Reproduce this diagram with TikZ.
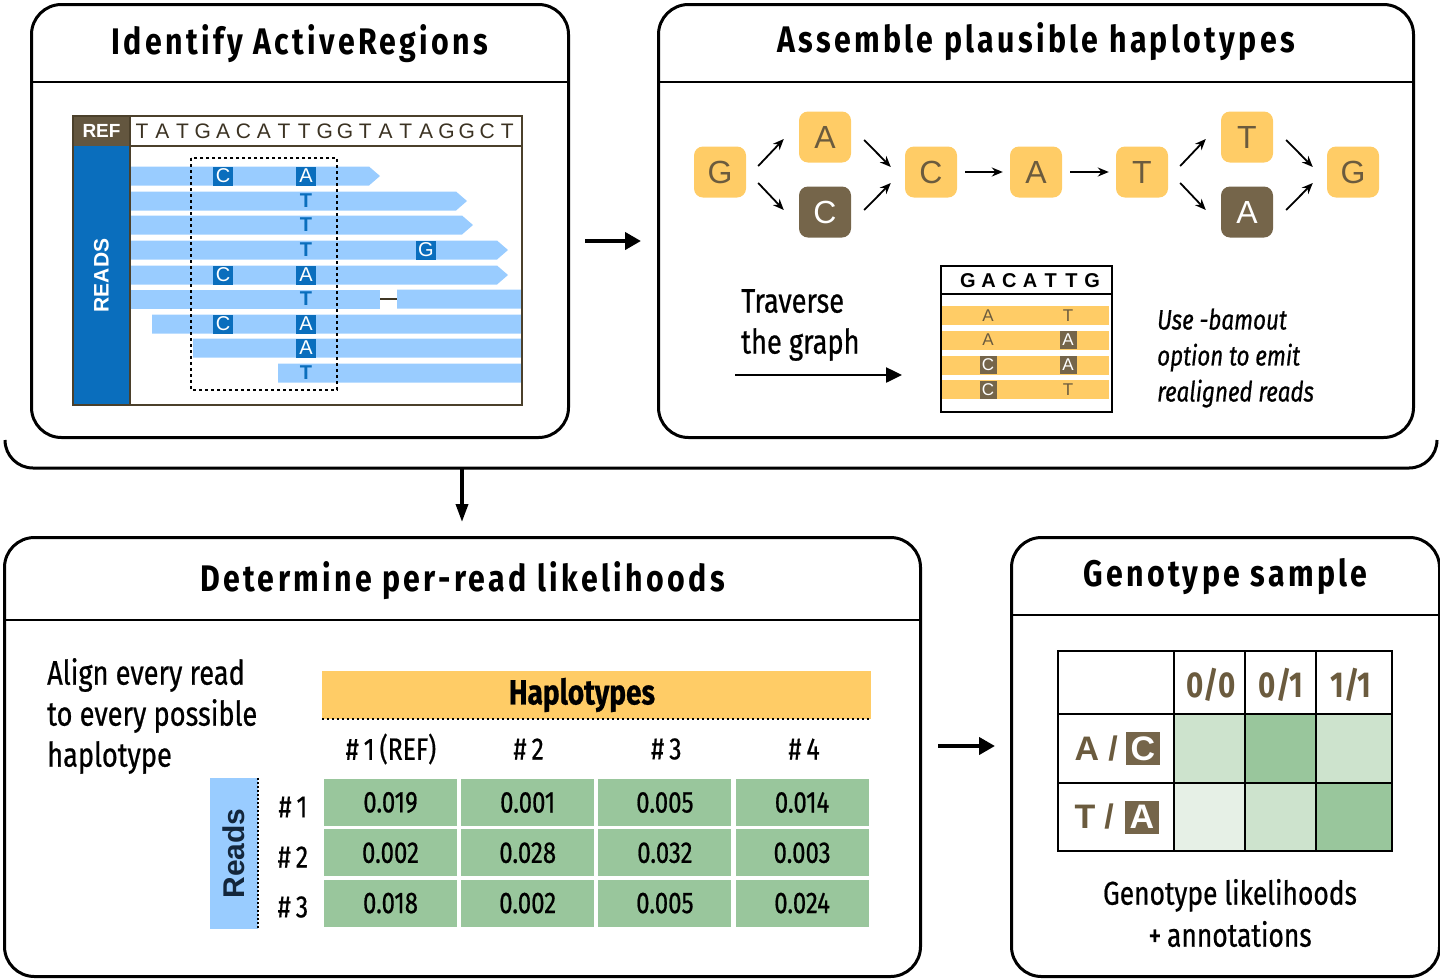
\documentclass[tikz,border=0pt]{standalone}
\usepackage{fontspec}
\setmainfont{Fira Sans}[FakeStretch=0.82]
\newfontfamily\bodyfont{Fira Sans}[FakeStretch=0.8, FakeBold=0.6]
\newfontfamily\titlefont{Fira Sans}[FakeStretch=0.82, LetterSpace=9]
\newfontfamily\arialfont{Liberation Sans}
\usetikzlibrary{positioning, arrows.meta, calc}

\definecolor{hapyellow}{HTML}{FFCC66}
\definecolor{hapbrown}{HTML}{6B5B3E}
\definecolor{hapdarkfill}{HTML}{75654A}
\definecolor{readblue}{HTML}{99CCFF}
\definecolor{refblue}{HTML}{0A6EBD}
\definecolor{likegreen}{HTML}{99C69C}
\definecolor{palegreen}{HTML}{CDE3CD}
\definecolor{palergreen}{HTML}{E6F0E6}
\definecolor{readsnavy}{HTML}{13263B}

\tikzset{
  panel/.style={draw, line width=3pt, rounded corners=30pt, anchor=north west, inner sep=0pt},
  divider/.style={line width=2.5pt},
  paneltitle/.style={font=\titlefont\bfseries\fontsize{37}{37}\selectfont},
  bigarrow/.style={line width=4.5pt, -{Triangle[length=16pt, width=17pt]}},
  downarrow/.style={line width=3.5pt, -{Triangle[length=18pt, width=12pt]}},
  flow/.style={line width=1.8pt, -{Stealth[length=11pt, width=9pt]}},
  hapnode/.style={fill=hapyellow, rounded corners=9pt, minimum width=52pt, minimum height=51pt,
    text=hapbrown, font=\arialfont\fontsize{32}{32}\selectfont},
  hapdark/.style={hapnode, fill=hapdarkfill, text=white},
  seqletter/.style={text=hapbrown!55!black, font=\arialfont\fontsize{21}{21}\selectfont, inner sep=0pt},
  varbox/.style={fill=refblue, text=white, minimum width=20pt, minimum height=19pt, inner sep=0pt,
    font=\arialfont\fontsize{20}{20}\selectfont},
  vart/.style={text=refblue, inner sep=0pt, font=\arialfont\bfseries\fontsize{20}{20}\selectfont},
  bodytext/.style={font=\bodyfont\fontsize{34}{41}\selectfont, align=left, anchor=west, inner sep=0pt},
  realletter/.style={text=hapbrown, inner sep=0pt, font=\arialfont\fontsize{17}{17}\selectfont},
  realdark/.style={realletter, fill=hapdarkfill, text=white, minimum width=17pt, minimum height=18pt},
  likecell/.style={fill=likegreen, minimum width=133pt, minimum height=47pt, inner sep=0pt,
    font=\bodyfont\fontsize{30}{30}\selectfont},
  colhead/.style={font=\bodyfont\fontsize{31}{31}\selectfont},
  gtcell/.style={minimum width=71pt, minimum height=69pt, inner sep=0pt, anchor=north west},
  gthead/.style={text=hapbrown, font=\bfseries\fontsize{36}{36}\selectfont},
  gtletter/.style={text=hapbrown, font=\arialfont\bfseries\fontsize{34}{34}\selectfont, inner sep=0pt},
  gtdark/.style={gtletter, fill=hapdarkfill, text=white, minimum width=34pt, minimum height=33pt},
}

\begin{document}
\begin{tikzpicture}[x=1pt, y=-1pt]
\useasboundingbox (0,0) rectangle (1440,978);

% ---- panels
\node[panel, minimum width=537pt, minimum height=433pt] (act) at (30,3) {};
\node[panel, minimum width=755pt, minimum height=433pt] (asm) at (657,3) {};
\node[panel, minimum width=916pt, minimum height=439pt] (lik) at (3,536) {};
\node[panel, minimum width=428pt, minimum height=439pt] (geno) at (1010,536) {};
\draw[divider] (act.west |- 0,82) -- (act.east |- 0,82);
\draw[divider] (asm.west |- 0,82) -- (asm.east |- 0,82);
\draw[divider] (lik.west |- 0,620) -- (lik.east |- 0,620);
\draw[divider] (geno.west |- 0,615) -- (geno.east |- 0,615);
\node[paneltitle] (actT) at (act.north |- 0,44) {Identify ActiveRegions};
\node[paneltitle] (asmT) at (asm.north |- 0,42) {Assemble plausible haplotypes};
\node[paneltitle] (likT) at (lik.north |- 0,581) {Determine per-read likelihoods};
\node[paneltitle] (genoT) at (geno.north |- 0,577) {Genotype sample};

% bracket round the two upper panels
\draw[line width=3pt, rounded corners=28pt] (5,440) -- (5,468) -- (1437,468) -- (1437,440);
\coordinate (brk) at (462,468);
\draw[downarrow, shorten >=14pt] (brk) -- (brk |- lik.north);
\draw[bigarrow, shorten <=15pt, shorten >=16pt] ([yshift=-20pt]act.east) -- ([yshift=-20pt]asm.west);
\draw[bigarrow, shorten <=16pt, shorten >=15pt] ([yshift=11pt]lik.east) -- ([yshift=11pt]geno.west);

% ---- active region
\node[fill=hapdarkfill!85!black, text=white, minimum width=57pt, minimum height=30pt, inner sep=0pt,
  font=\arialfont\bfseries\fontsize{19}{19}\selectfont] (ref) at (101.5,131) {REF};
\node[fill=refblue, minimum width=57pt, minimum height=259pt, inner sep=0pt] (readsbar) at (101.5,275.5) {};
\node[rotate=90, text=white, font=\arialfont\bfseries\fontsize{21}{21}\selectfont] (readsT) at (readsbar) {READS};
\foreach \l [count=\i from 0] in {T,A,T,G,A,C,A,T,T,G,G,T,A,T,A,G,G,C,T}
  \node[seqletter] (seq\i) at (142+20.3*\i,131) {\l};
\foreach \y/\xs/\xe/\tip [count=\k] in {176/130/369/380, 201/130/456/467, 225/130/462/473,
    250/130/497/508, 275/130/497/508, 299/397/521/521, 324/152/521/521, 348/193/521/521, 373/278/521/521}
  \fill[readblue] (\xs,{\y-9.5}) -- (\xe,{\y-9.5}) -- (\tip,\y) -- (\xe,{\y+9.5}) -- (\xs,{\y+9.5}) -- cycle;
\fill[readblue] (130,289.5) rectangle (380,308.5);
\draw[line width=2pt, hapbrown!60!black] (380,299) -- (397,299);
\draw[dash pattern=on 3pt off 3pt, line width=1.8pt] (191,158) rectangle (337,390);
\foreach \x/\y/\b [count=\k] in {223/176/C, 306/176/A, 223/275/C, 306/275/A, 223/324/C, 306/324/A, 306/348/A, 426/250/G}
  \node[varbox] (var\k) at (\x,\y) {\b};
\foreach \y [count=\k] in {201,225,250,299,373}
  \node[vart] (vt\k) at (306,\y) {T};
\draw[line width=1.5pt, hapbrown!70!black] (73,116) rectangle (522,405);
\draw[line width=1.5pt, hapbrown!70!black] (130,116) -- (130,405);
\draw[line width=1.2pt, hapbrown!70!black] (130,146) -- (522,146);

% ---- assembly graph
\node[hapnode] (g1) at (720,172) {G};
\node[hapnode] (a1) at (825,137) {A};
\node[hapdark] (c1) at (825,212) {C};
\node[hapnode] (c2) at (931,172) {C};
\node[hapnode] (a2) at (1036,172) {A};
\node[hapnode] (t1) at (1142,172) {T};
\node[hapnode] (t2) at (1247,137) {T};
\node[hapdark] (a3) at (1247,212) {A};
\node[hapnode] (g2) at (1353,172) {G};
\draw[flow] ($(g1.east)+(12,-6)$) -- ($(a1.west)+(-15,2)$);
\draw[flow] ($(g1.east)+(12,11)$) -- ($(c1.west)+(-15,-2)$);
\draw[flow] ($(a1.east)+(13,3)$) -- ($(c2.west)+(-14,-5)$);
\draw[flow] ($(c1.east)+(13,-2)$) -- ($(c2.west)+(-14,11)$);
\draw[flow, shorten <=8pt, shorten >=7pt] (c2) -- (a2);
\draw[flow, shorten <=8pt, shorten >=7pt] (a2) -- (t1);
\draw[flow] ($(t1.east)+(12,-6)$) -- ($(t2.west)+(-15,2)$);
\draw[flow] ($(t1.east)+(12,11)$) -- ($(a3.west)+(-15,-2)$);
\draw[flow] ($(t2.east)+(13,3)$) -- ($(g2.west)+(-14,-5)$);
\draw[flow] ($(a3.east)+(13,-2)$) -- ($(g2.west)+(-14,11)$);

\node[bodytext] (trav) at (741,325) {Traverse\\the graph};
\node[draw, line width=1.5pt, minimum width=171pt, minimum height=146pt, anchor=north west, inner sep=0pt] (realn) at (940,265) {};
\foreach \y in {315.5,340,365,389.5}
  \fill[hapyellow] (942,{\y-9.5}) rectangle (1109,{\y+9.5});
\draw[line width=1.5pt] (realn.west |- 0,294) -- (realn.east |- 0,294);
\foreach \l [count=\i from 0] in {G,A,C,A,T,T,G}
  \node[text=black, font=\arialfont\bfseries\fontsize{20}{20}\selectfont] (hdr\i) at (968+20.7*\i,281) {\l};
\node[realletter] (r11) at (988,315.5) {A};
\node[realletter] (r12) at (1068,315.5) {T};
\node[realletter] (r21) at (988,340) {A};
\node[realdark] (r22) at (1068,340) {A};
\node[realdark] (r31) at (988,365) {C};
\node[realdark] (r32) at (1068,365) {A};
\node[realdark] (r41) at (988,389.5) {C};
\node[realletter] (r42) at (1068,389.5) {T};
\coordinate (travS) at (735,375);
\draw[line width=2.5pt, -{Triangle[length=16pt, width=15pt]}, shorten >=38pt] (travS) -- (travS -| realn.west);
\node[bodytext, font=\bodyfont\itshape\fontsize{28}{36}\selectfont] (bamout) at (1157,358) {Use -bamout\\option to emit\\realigned reads};

% ---- per-read likelihoods
\node[bodytext] (align) at (47,716) {Align every read\\to every possible\\haplotype};
\node[fill=hapyellow, minimum width=549pt, minimum height=48pt, inner sep=0pt] (haphead) at (596.5,695) {};
\node[font=\bodyfont\bfseries\fontsize{35}{35}\selectfont] (hapT) at (582,695) {Haplotypes};
\draw[dash pattern=on 2.5pt off 2.5pt, line width=2pt] (haphead.south west) -- (haphead.south east);
\foreach \h [count=\c from 0] in {\#\,1\,(REF), \#\,2, \#\,3, \#\,4}
  \node[colhead] (hh\c) at (391+137.7*\c,749) {\h};
\node[fill=readblue, minimum width=48pt, minimum height=151pt, inner sep=0pt] (readsbox) at (234,853.5) {};
\draw[dash pattern=on 2pt off 2pt, line width=1.5pt] (readsbox.north east) -- (readsbox.south east);
\node[rotate=90, text=readsnavy, font=\arialfont\bfseries\fontsize{30}{30}\selectfont] (readsL) at (readsbox) {Reads};
\foreach \r [count=\k] in {1,2,3}
  \node[colhead] (rl\k) at (293,{757+50*\k}) {\#\,\r};
\foreach \row [count=\r from 0] in {{0.019,0.001,0.005,0.014},{0.002,0.028,0.032,0.003},{0.018,0.002,0.005,0.024}}
  \foreach \v [count=\c from 0] in \row
    \node[likecell] (lc\r\c) at (390.5+137.2*\c,{802.5+50.3*\r}) {\v};

% ---- genotype grid
\node[gtcell, fill=palegreen] (gt11) at (1174,714) {};
\node[gtcell, fill=likegreen] (gt12) at (1245,714) {};
\node[gtcell, fill=palegreen, minimum width=76pt] (gt13) at (1316,714) {};
\node[gtcell, fill=palergreen, minimum height=68pt] (gt21) at (1174,783) {};
\node[gtcell, fill=palegreen, minimum height=68pt] (gt22) at (1245,783) {};
\node[gtcell, fill=likegreen, minimum width=76pt, minimum height=68pt] (gt23) at (1316,783) {};
\draw[line width=2pt] (1058,651) rectangle (1392,851);
\draw[line width=2pt] (1174,651) -- (1174,851) (1245,651) -- (1245,851) (1316,651) -- (1316,851)
  (1058,714) -- (1392,714) (1058,783) -- (1392,783);
\node[gthead] (h00) at (1211,685) {0/0};
\node[gthead] (h01) at (1281,685) {0/1};
\node[gthead] (h11) at (1351,685) {1/1};
\node[gtletter] (acA) at (1087,748.5) {A};
\node[gtletter] (acS) at (1113,748.5) {/};
\node[gtdark] (acC) at (1143,748.5) {C};
\node[gtletter] (taT) at (1085,817) {T};
\node[gtletter] (taS) at (1109,817) {/};
\node[gtdark] (taA) at (1142,817) {A};
\node[font=\bodyfont\fontsize{33}{42}\selectfont, align=center] (gtnote) at (1230,913) {Genotype likelihoods\\+\,annotations};
\end{tikzpicture}
\end{document}
